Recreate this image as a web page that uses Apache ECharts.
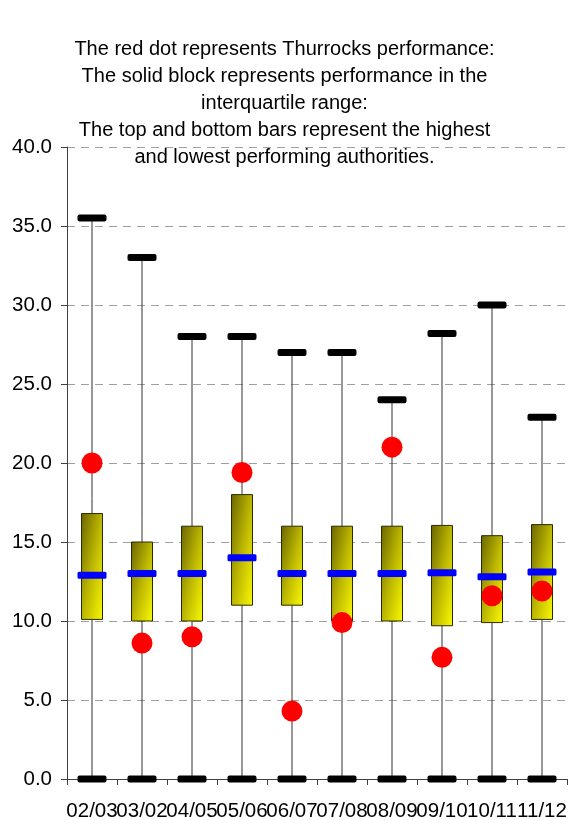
<!DOCTYPE html>
<html>
<head>
<meta charset="utf-8">
<script src="https://cdn.jsdelivr.net/npm/echarts@6/dist/echarts.min.js"></script>
<style>html,body{margin:0;padding:0;background:#fff}#c{width:569px;height:820px}</style>
</head>
<body>
<div id="c"></div>
<script>
var categories = ['02/03','03/02','04/05','05/06','06/07','07/08','08/09','09/10','10/11','11/12'];
var highest = [35.5, 33.0, 28.0, 28.0, 27.0, 27.0, 24.0, 28.2, 30.0, 22.9];
var lowest = [0, 0, 0, 0, 0, 0, 0, 0, 0, 0];
var upperQuartile = [16.8, 15.0, 16.0, 18.0, 16.0, 16.0, 16.0, 16.05, 15.4, 16.1];
var lowerQuartile = [10.1, 10.0, 10.0, 11.0, 11.0, 10.0, 10.0, 9.7, 9.9, 10.1];
var median = [12.9, 13.0, 13.0, 14.0, 13.0, 13.0, 13.0, 13.05, 12.8, 13.1];
var thurrock = [20.0, 8.6, 9.0, 19.4, 4.3, 9.9, 21.0, 7.7, 11.6, 11.9];
var yTicks = {min: 0, max: 40, interval: 5};

var boxData = categories.map(function (c, i) {
  return [i, lowest[i], lowerQuartile[i], median[i], upperQuartile[i], highest[i]];
});

var chart = echarts.init(document.getElementById('c'), null, {renderer: 'canvas'});
var font = 'Liberation Sans, Arial, Helvetica, sans-serif';

chart.setOption({
  animation: false,
  backgroundColor: '#ffffff',
  title: {
    text: 'The red dot represents Thurrocks performance:\nThe solid block represents performance in the\ninterquartile range:\nThe top and bottom bars represent the highest\nand lowest performing authorities.',
    left: 'center',
    top: 31,
    textStyle: {fontFamily: font, fontSize: 20, fontWeight: 'normal', color: '#000', lineHeight: 27, align: 'center'}
  },
  grid: {left: 67, right: 2, top: 147, bottom: 41, containLabel: false, outerBoundsMode: 'none'},
  xAxis: {
    type: 'category',
    data: categories,
    boundaryGap: true,
    axisLine: {show: true, lineStyle: {color: '#404040', width: 1}},
    axisTick: {show: true, length: 6, lineStyle: {color: '#404040'}},
    axisLabel: {interval: 0, margin: 22, color: '#000', fontFamily: font, fontSize: 20.5},
    splitLine: {show: false}
  },
  yAxis: {
    type: 'value',
    min: yTicks.min, max: yTicks.max, interval: yTicks.interval,
    axisLine: {show: true, lineStyle: {color: '#404040', width: 1}},
    axisTick: {show: true, length: 6, lineStyle: {color: '#404040'}},
    axisLabel: {margin: 15, color: '#000', fontFamily: font, fontSize: 20.5,
      formatter: function (v) { return v.toFixed(1); }},
    splitLine: {show: true, lineStyle: {color: '#a0a0a0', type: [8, 6], width: 1}}
  },
  series: [
    {
      type: 'custom',
      data: boxData,
      z: 2,
      renderItem: function (params, api) {
        var i = api.value(0);
        var pMin = api.coord([i, api.value(1)]);
        var pQ1 = api.coord([i, api.value(2)]);
        var pMed = api.coord([i, api.value(3)]);
        var pQ3 = api.coord([i, api.value(4)]);
        var pMax = api.coord([i, api.value(5)]);
        var x = pMin[0];
        var bw = 21, cw = 29, ch = 7;
        var bh = pQ1[1] - pQ3[1];
        var d = bh * bh + bw * bw;
        var gx2 = 2 * bh * bh / d, gy2 = 2 * bw * bw / d;
        return {
          type: 'group',
          children: [
            {type: 'line', shape: {x1: x, y1: pMin[1], x2: x, y2: pMax[1]},
              style: {stroke: '#333', lineWidth: 1}},
            {type: 'rect', shape: {x: x - bw / 2, y: pQ3[1], width: bw, height: bh},
              style: {
                fill: {type: 'linear', x: 0, y: 0, x2: gx2, y2: gy2, colorStops: [
                  {offset: 0, color: '#6a6400'}, {offset: 0.5, color: '#bdb800'}, {offset: 1, color: '#ffff00'}]},
                stroke: '#2a2a00', lineWidth: 1
              }},
            {type: 'rect', shape: {x: x - cw / 2, y: pMed[1] - ch / 2, width: cw, height: ch, r: 1.5},
              style: {fill: '#0000ff'}},
            {type: 'rect', shape: {x: x - cw / 2, y: pMax[1] - ch / 2, width: cw, height: ch, r: 2},
              style: {fill: '#000'}},
            {type: 'rect', shape: {x: x - cw / 2, y: pMin[1] - ch / 2, width: cw, height: ch, r: 2},
              style: {fill: '#000'}}
          ]
        };
      }
    },
    {
      type: 'scatter',
      data: thurrock,
      z: 5,
      symbol: 'circle',
      symbolSize: 21,
      itemStyle: {color: '#ff0000', opacity: 1}
    }
  ]
});
</script>
</body>
</html>
